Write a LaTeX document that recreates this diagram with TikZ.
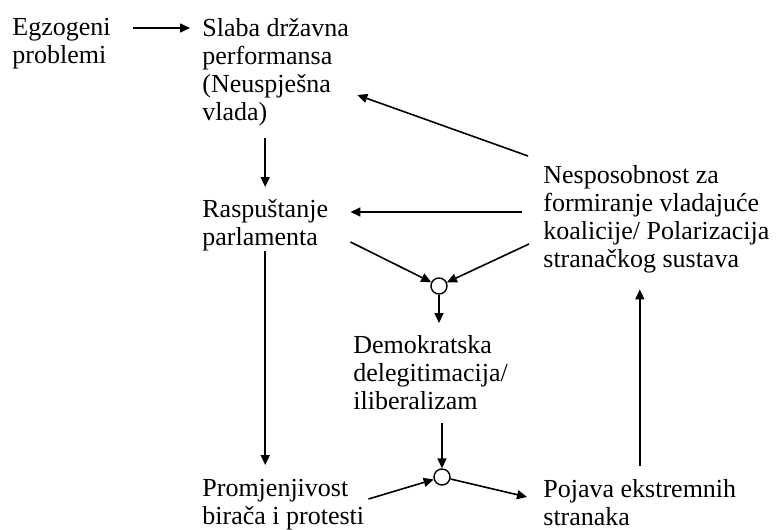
\documentclass[tikz,border=0pt]{standalone}
\usepackage{fontspec}
\setmainfont{Liberation Serif}
\usepackage{tikz}
\usetikzlibrary{arrows.meta}

\tikzset{
  txt/.style={anchor=north west, inner sep=0pt, align=left,
    font=\fontsize{13pt}{14pt}\selectfont},
  junc/.style={draw, fill=white, circle, inner sep=0pt, minimum size=8pt, line width=0.7pt},
  arr/.style={-{Triangle[length=5pt,width=4.5pt]}, line width=0.8pt}
}

\begin{document}
\begin{tikzpicture}[x=0.5pt, y=-0.5pt]
\useasboundingbox (0,0) rectangle (777,530);

\node [txt] (egz) at (12,18) {Egzogeni\\problemi};
\node [txt] (slaba) at (202,18) {Slaba državna\\performansa\\(Neuspješna\\vlada)};
\node [txt] (rasp) at (202,199) {Raspuštanje\\parlamenta};
\node [txt] (nes) at (543,165) {Nesposobnost za\\formiranje vladajuće\\koalicije/ Polarizacija\\stranačkog sustava};
\node [txt] (demo) at (353,335) {Demokratska\\delegitimacija/\\iliberalizam};
\node [txt] (prom) at (202,479) {Promjenjivost\\birača i protesti};
\node [txt] (poj) at (543,479) {Pojava ekstremnih\\stranaka};

\node [junc] (j1) at (439,286) {};
\node [junc] (j2) at (442,477) {};

\draw [arr] ([shift={(22,10)}]egz.north east) -- ([shift={(-12,10)}]slaba.north west);
\draw [arr] ([shift={(-15,-9)}]nes.north west) -- ([shift={(8,77)}]slaba.north east);
\draw [arr] ([shift={(-21,47)}]nes.north west) -- ([shift={(22,13)}]rasp.north east);
\draw [arr, shorten <=6pt, shorten >=6pt] (slaba.south -| rasp.north) -- (rasp.north);
\draw [arr, shorten >=7pt] (rasp.south) -- (rasp.south |- prom.north);
\draw [arr] ([shift={(22,43)}]rasp.north east) -- (j1);
\draw [arr] ([shift={(-14,79)}]nes.north west) -- (j1);
\draw [arr, shorten >=6pt] (j1) -- (j1 |- demo.north);
\draw [arr, shorten <=6.5pt] (demo.south -| j2) -- (j2);
\draw [arr] ([shift={(4,20)}]prom.north east) -- (j2);
\draw [arr] (j2) -- ([shift={(-16,18)}]poj.north west);
\draw [arr, shorten <=6.5pt, shorten >=8pt] (poj.north) -- (poj.north |- nes.south);
\end{tikzpicture}
\end{document}
